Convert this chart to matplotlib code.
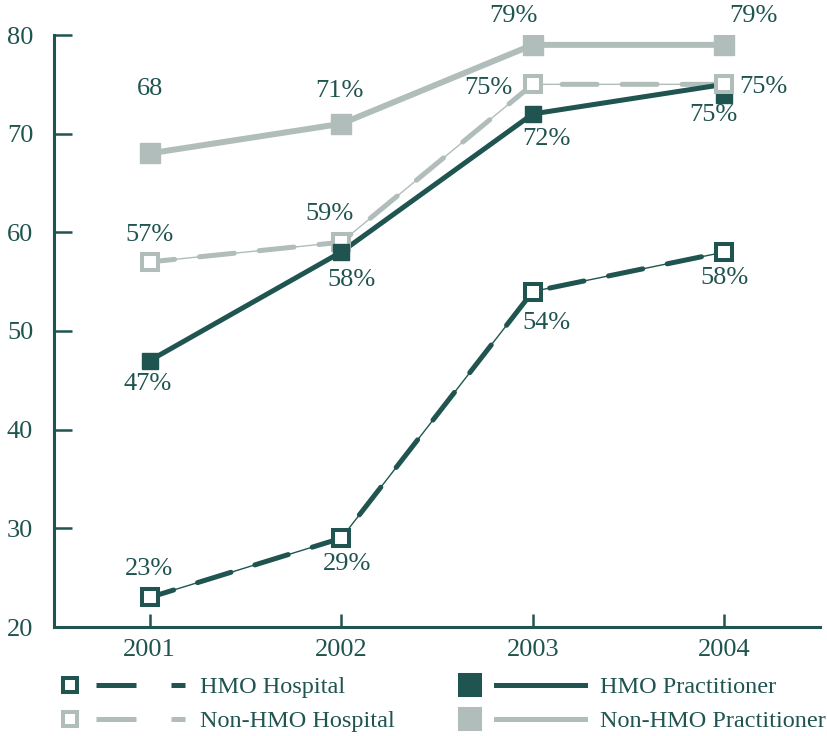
import matplotlib
matplotlib.use("Agg")
import matplotlib.pyplot as plt
from matplotlib.lines import Line2D
from matplotlib.legend_handler import HandlerBase
from matplotlib.transforms import ScaledTranslation

# data
years = [2001, 2002, 2003, 2004]
hmo_hospital = [23, 29, 54, 58]
non_hmo_hospital = [57, 59, 75, 75]
hmo_practitioner = [47, 58, 72, 75]
non_hmo_practitioner = [68, 71, 79, 79]

hmo_hospital_labels = ["23%", "29%", "54%", "58%"]
non_hmo_hospital_labels = ["57%", "59%", "75%", "75%"]
hmo_practitioner_labels = ["47%", "58%", "72%", "75%"]
non_hmo_practitioner_labels = ["68", "71%", "79%", "79%"]

DARK = "#1f5450"
GRAY = "#b0bdba"
PX = 0.72  # points per pixel at 100 dpi

plt.rcParams['font.family'] = ['Liberation Serif', 'DejaVu Serif']

fig = plt.figure(figsize=(8.27, 7.36), dpi=100)
ax = fig.add_axes([54 / 827, 109 / 736, 766 / 827, 592 / 736])


def dashed_series(y, color, msize):
    # thin base line with thick rounded dashes on top
    ax.plot(years, y, color=color, lw=1.0, zorder=2)
    ax.plot(years, y, color=color, lw=3.6, ls=(2, (7, 5)),
            dash_capstyle='round', zorder=2)
    ax.plot(years, y, ls='none', marker='s', markersize=msize,
            markerfacecolor='white', markeredgecolor=color,
            markeredgewidth=2.9, zorder=4)


# non-HMO practitioner
ax.plot(years, non_hmo_practitioner, color=GRAY, lw=4.3, marker='s',
        markersize=15, zorder=2)
# non-HMO hospital
dashed_series(non_hmo_hospital, GRAY, 11.5)
# HMO practitioner (last marker nudged down so it does not hide the other one)
ax.plot(years, hmo_practitioner, color=DARK, lw=3.6, zorder=3)
ax.plot(years[:-1], hmo_practitioner[:-1], ls='none', marker='s',
        markersize=11.5, color=DARK, zorder=5)
nudge = ax.transData + ScaledTranslation(0, -0.11, fig.dpi_scale_trans)
ax.plot(years[-1:], hmo_practitioner[-1:], ls='none', marker='s',
        markersize=11.5, color=DARK, zorder=3, transform=nudge)
# HMO hospital
dashed_series(hmo_hospital, DARK, 11.5)

# value labels, offsets in pixels
offsets = {
    "nhp": [(0, 64), (-2, 33), (-19, 29), (29, 29)],
    "nhh": [(0, 27), (-12, 28), (-44, -4), (39, -3)],
    "hp": [(-2, -23), (10, -28), (14, -25), (-11, -31)],
    "hh": [(-1, 28), (6, -26), (14, -31), (0, -26)],
}
series = [
    ("nhp", non_hmo_practitioner, non_hmo_practitioner_labels),
    ("nhh", non_hmo_hospital, non_hmo_hospital_labels),
    ("hp", hmo_practitioner, hmo_practitioner_labels),
    ("hh", hmo_hospital, hmo_hospital_labels),
]
for key, vals, labels in series:
    for x, v, lab, (dx, dy) in zip(years, vals, labels, offsets[key]):
        ax.annotate(lab, (x, v), xytext=(dx * PX, dy * PX),
                    textcoords='offset points', ha='center', va='center',
                    fontsize=19, color=DARK, zorder=6)

ax.set_xlim(2000.5, 2004.5)
ax.set_ylim(20, 80)
ax.set_xticks(years)
ax.set_yticks(range(20, 81, 10))

for side in ['top', 'right']:
    ax.spines[side].set_visible(False)
for side in ['left', 'bottom']:
    ax.spines[side].set_color(DARK)
    ax.spines[side].set_linewidth(2.2)

ax.tick_params(axis='y', direction='in', length=13, width=1.8, color=DARK,
               labelsize=19, labelcolor=DARK, pad=15)
ax.tick_params(axis='x', direction='in', length=9.5, width=1.8, color=DARK,
               labelsize=19, labelcolor=DARK, pad=9)


# legend: marker on the left, then the line sample
class MarkerThenLine(HandlerBase):
    def create_artists(self, legend, orig_handle, xdescent, ydescent,
                       width, height, fontsize, trans):
        m, l = orig_handle
        y = height / 2 - ydescent
        x0 = -xdescent
        mk = Line2D([x0 + 0.07 * width], [y])
        mk.update_from(m)
        ln = Line2D([x0 + 0.28 * width, x0 + width], [y, y])
        ln.update_from(l)
        mk.set_transform(trans)
        ln.set_transform(trans)
        return [ln, mk]


def lh(color, filled, dashed, msize):
    m = Line2D([], [], ls='none', marker='s', markersize=msize,
               markerfacecolor=color if filled else 'white',
               markeredgecolor=color, markeredgewidth=2.9)
    if dashed:
        l = Line2D([], [], color=color, lw=3.6, ls=(0, (8, 7)))
    else:
        l = Line2D([], [], color=color, lw=3.6)
    return (m, l)


handles = [lh(DARK, False, True, 10), lh(GRAY, False, True, 10),
           lh(DARK, True, False, 15), lh(GRAY, True, False, 15)]
labels = ["HMO Hospital", "Non-HMO Hospital",
          "HMO Practitioner", "Non-HMO Practitioner"]
fig.legend(handles, labels, handler_map={tuple: MarkerThenLine()},
           loc='upper left', bbox_to_anchor=(61 / 827, 1 - 676 / 736),
           ncol=2, frameon=False, fontsize=17.5, labelcolor=DARK,
           handlelength=5.1, handletextpad=0.6, columnspacing=2.75,
           borderpad=0, borderaxespad=0, labelspacing=0.5)

fig.savefig("out.png", dpi=100)
